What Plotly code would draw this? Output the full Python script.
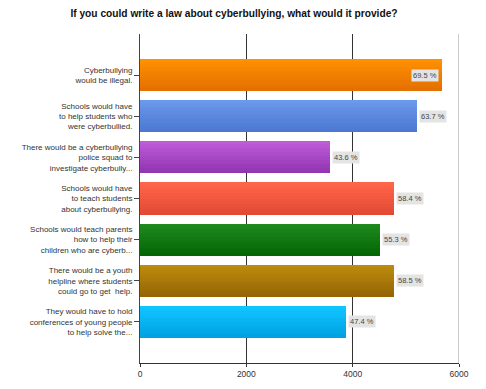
import plotly.graph_objects as go

categories = [
    "Cyberbullying<br>would be illegal.",
    "Schools would have<br>to help students who<br>were cyberbullied.",
    "There would be a cyberbullying<br>police squad to<br>investigate cyberbully...",
    "Schools would have<br>to teach students<br>about cyberbullying.",
    "Schools would teach parents<br>how to help their<br>children who are cyberb...",
    "There would be a youth<br>helpline where students<br>could go to get  help.",
    "They would have to hold<br>conferences of young people<br>to help solve the...",
]
counts = [5680, 5205, 3565, 4770, 4520, 4780, 3875]
pct_labels = ["69.5 %", "63.7 %", "43.6 %", "58.4 %", "55.3 %", "58.5 %", "47.4 %"]
x_ticks = [0, 2000, 4000, 6000]

top_colors = ["#FF9000", "#6A98EA", "#BE5BD8", "#FF6549", "#1E8A1E", "#BC8C0C", "#10C4FF"]
bot_colors = ["#E37000", "#4C78D2", "#9135B0", "#E24A34", "#056605", "#976506", "#00A2E2"]


def hex2rgb(h):
    h = h.lstrip("#")
    return tuple(int(h[i:i + 2], 16) for i in (0, 2, 4))


def mix(a, b, t):
    ra, rb = hex2rgb(a), hex2rgb(b)
    return "rgb(%d,%d,%d)" % tuple(round(ra[i] + (rb[i] - ra[i]) * t) for i in range(3))


positions = list(range(len(categories)))
bar_w = 0.78
n_strips = 12
strip = bar_w / n_strips

fig = go.Figure()
for k in range(n_strips):
    t = k / (n_strips - 1)
    fig.add_trace(go.Bar(
        x=counts, y=positions, orientation="h",
        width=strip * 1.6 if k < n_strips - 1 else strip,
        offset=-bar_w / 2 + k * strip,
        marker=dict(color=[mix(a, b, t) for a, b in zip(top_colors, bot_colors)],
                    line=dict(width=0)),
        hoverinfo="skip", showlegend=False,
    ))

annotations = []
for i, (v, lab) in enumerate(zip(counts, pct_labels)):
    inside = v > 5500
    annotations.append(dict(
        x=v, y=i, xref="x", yref="y", text=lab, showarrow=False,
        xanchor="right" if inside else "left", xshift=-3 if inside else 2,
        font=dict(size=7.5, color="#444", family="Liberation Sans, Arial"),
        bgcolor="#E4E4E4", borderpad=1,
    ))

fig.update_layout(
    width=486, height=389,
    margin=dict(l=132, r=35, t=26, b=34),
    paper_bgcolor="white", plot_bgcolor="white",
    barmode="overlay", bargap=0,
    font=dict(family="Liberation Sans, Arial", size=8.5, color="#333"),
    title=dict(text="<b>If you could write a law about cyberbullying, what would it provide?</b>",
               x=0.465, xanchor="center", xref="container", y=0.985, yanchor="middle",
               font=dict(size=10.2, color="#111", family="Liberation Sans, Arial")),
    xaxis=dict(range=[0, 6000], tickvals=x_ticks, ticktext=[str(v) for v in x_ticks],
               showgrid=True, gridcolor="#333", gridwidth=1, zeroline=False,
               showline=True, linecolor="#333", linewidth=1,
               ticks="outside", ticklen=3, tickcolor="#333",
               tickfont=dict(size=8.5, color="#333")),
    yaxis=dict(range=[7, -1], tickvals=positions, ticktext=categories,
               showgrid=False, zeroline=False, showline=True, linecolor="#444", linewidth=1,
               ticks="outside", ticklen=5, tickcolor="#444",
               tickfont=dict(size=8, color="#333")),
    annotations=annotations,
    shapes=[dict(type="line", xref="x", yref="paper", x0=6000, x1=6000, y0=0, y1=1,
                 line=dict(color="#BBBBBB", width=1.5), layer="between")],
)

fig.write_html("out.html")
